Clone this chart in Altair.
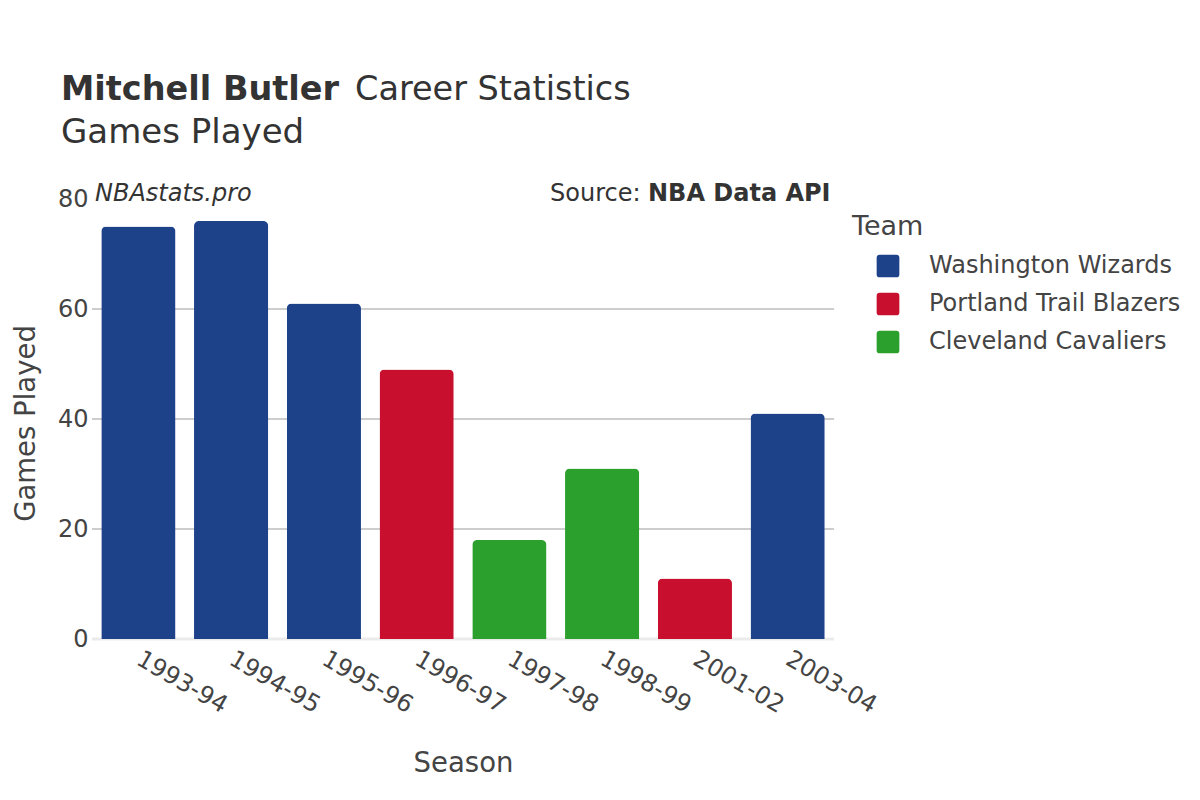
import altair as alt
import pandas as pd

seasons = ["1993-94", "1994-95", "1995-96", "1996-97", "1997-98", "1998-99", "2001-02", "2003-04"]
games = [75, 76, 61, 49, 18, 31, 11, 41]
teams = ["Washington Wizards", "Washington Wizards", "Washington Wizards", "Portland Trail Blazers",
         "Cleveland Cavaliers", "Cleveland Cavaliers", "Portland Trail Blazers", "Washington Wizards"]
team_order = ["Washington Wizards", "Portland Trail Blazers", "Cleveland Cavaliers"]
team_colors = ["#1D428A", "#C8102E", "#2CA02C"]
y_ticks = [0, 20, 40, 60, 80]
grid_values = [20, 40, 60]

df = pd.DataFrame({"Season": seasons, "Games Played": games, "Team": teams})

FONT = "DejaVu Sans"
yscale = alt.Scale(domain=[0, 80], nice=False, zero=True)

yaxis = alt.Axis(title="Games Played", values=y_ticks, grid=False, domain=False,
                 ticks=False, labelPadding=4, labelFontSize=24, labelColor="#444444",
                 titleFontSize=27.5, titleFontWeight="normal", titleColor="#444444",
                 titleX=-58, titleY=224, titleBaseline="alphabetic",
                 titleAlign="center", titleAngle=-90)

rounded_square = ("M-0.72,-1 H0.72 Q1,-1 1,-0.72 V0.72 Q1,1 0.72,1 H-0.72 "
                  "Q-1,1 -1,0.72 V-0.72 Q-1,-1 -0.72,-1 Z")

grid = alt.Chart(pd.DataFrame({"v": grid_values})).mark_rule(
    color="#bdbdbd", strokeWidth=1.5
).encode(y=alt.Y("v:Q", scale=yscale, axis=yaxis))

zero = alt.Chart(pd.DataFrame({"v": [0]})).mark_rule(
    color="#ebebeb", strokeWidth=3
).encode(y=alt.Y("v:Q", scale=yscale, axis=yaxis))

bars = alt.Chart(df).mark_bar(cornerRadiusTopLeft=5, cornerRadiusTopRight=5).encode(
    x=alt.X("Season:N", sort=seasons,
            scale=alt.Scale(paddingInner=0.2, paddingOuter=0.1),
            axis=alt.Axis(title="Season", labelAngle=30, labelAlign="left",
                          labelBaseline="middle", labelPadding=18, labelFontSize=24,
                          labelColor="#444444", domain=False, ticks=False,
                          titleFontSize=27.5, titleFontWeight="normal", titleColor="#444444",
                          titleY=132, titleBaseline="alphabetic")),
    y=alt.Y("Games Played:Q", scale=yscale, axis=yaxis),
    color=alt.Color("Team:N", scale=alt.Scale(domain=team_order, range=team_colors),
                    legend=alt.Legend(title="Team", orient="none", legendX=760, legendY=15,
                                      symbolType=rounded_square, symbolSize=515,
                                      symbolStrokeWidth=0, symbolOffset=24, labelOffset=29,
                                      labelFontSize=24, labelColor="#444444", labelLimit=500,
                                      titleFontSize=27, titleFontWeight="normal",
                                      titleColor="#444444", titlePadding=13, rowPadding=14,
                                      padding=0)),
)

def txt(s, x, y, size, weight="normal", style="normal", color="#333333"):
    return alt.Chart(pd.DataFrame({"t": [s]})).mark_text(
        align="left", baseline="alphabetic", fontSize=size, fontWeight=weight,
        fontStyle=style, color=color, font=FONT
    ).encode(x=alt.value(x), y=alt.value(y), text="t:N")

texts = [
    txt("Mitchell Butler", -31, -99.5, 33.5, weight="bold"),
    txt("Career Statistics", 263, -99.5, 33.5),
    txt("Games Played", -31, -56.5, 34),
    txt("NBAstats.pro", 3, 1.5, 24, style="italic"),
    txt("Source:", 458, 1.5, 24),
    txt("NBA Data API", 556, 1.5, 24, weight="bold"),
]

chart = alt.layer(grid, zero, bars, *texts).properties(
    width=742, height=440,
    autosize=alt.AutoSizeParams(type="none"),
    padding={"left": 84, "top": 191, "right": 358, "bottom": 153},
).configure(font=FONT).configure_view(stroke=None)

chart.save("out.html", embed_options={"renderer": "svg", "actions": False})
